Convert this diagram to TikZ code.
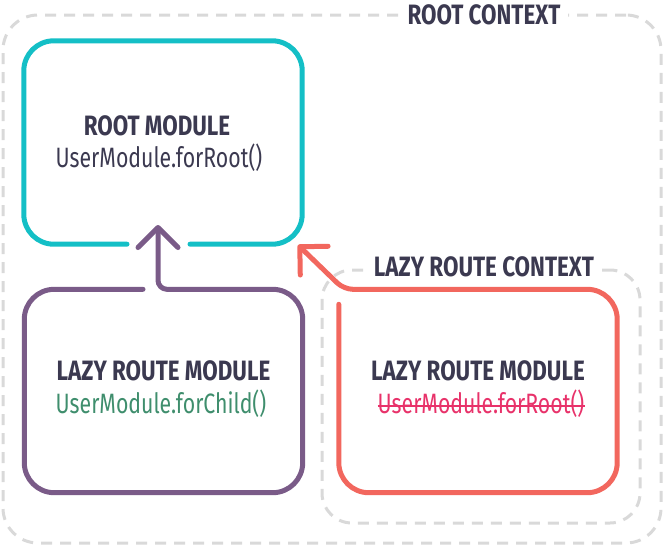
\documentclass[tikz,border=0pt]{standalone}
\usepackage{fontspec}
\setmainfont{Fira Sans}[FakeStretch=0.76, BoldFeatures={FakeStretch=0.8}]
\usepackage{tikz}
\usetikzlibrary{positioning}
\usetikzlibrary{calc, arrows.meta}

\definecolor{rootCyan}{HTML}{14BFC6}
\definecolor{childPurple}{HTML}{7A5B88}
\definecolor{lazyRed}{HTML}{F2675E}
\definecolor{textNavy}{HTML}{3B3950}
\definecolor{callGreen}{HTML}{3F8E6D}
\definecolor{callPink}{HTML}{E8326A}
\definecolor{contextGray}{HTML}{D9D9D9}

\begin{document}
\begin{tikzpicture}[x=1pt, y=-1pt]
	\tikzstyle{box}=[minimum width=278pt, minimum height=203pt, inner sep=0pt]
	\tikzstyle{outline}=[line width=5pt, rounded corners=30pt, line cap=round, line join=round]
	\tikzstyle{context}=[draw=contextGray, line width=3pt, dash pattern=on 11pt off 8pt, inner sep=0pt]
	\tikzstyle{title}=[font=\bfseries\fontsize{28}{32}\selectfont, text=textNavy, anchor=base, inner sep=0pt]
	\tikzstyle{call}=[font=\fontsize{28}{32}\selectfont, anchor=base, inner sep=0pt]
	\tikzstyle{ctxlabel}=[title, anchor=center, fill=white, inner xsep=8pt, inner ysep=4pt]
	\tikzstyle{barb}=[-{Straight Barb[length=20pt, width=40pt, round]}]

	\useasboundingbox (0,0) rectangle (671,546);

	% contexts
	\node[context, rounded corners=35pt, minimum width=658pt, minimum height=528pt] (rootCtx) at (332,279) {};
	\node[context, rounded corners=30pt, minimum width=318pt, minimum height=253pt] (lazyCtx) at (481,396.5) {};
	\node[ctxlabel] (rootCtxLabel) at (484,15) {ROOT CONTEXT};
	\node[ctxlabel] (lazyCtxLabel) at (484,267) {LAZY ROUTE CONTEXT};

	% modules
	\node[box] (root) at (163,142.5) {};
	\node[box] (child) at (163.5,391) {};
	\node[box] (lazy) at (478,391) {};

	\node[title] (rootTitle) at (157,135) {ROOT MODULE};
	\node[call, text=textNavy] (rootCall) at (159,167) {UserModule.forRoot()};
	\node[title] (childTitle) at (163.5,380) {LAZY ROUTE MODULE};
	\node[call, text=callGreen] (childCall) at (161,413) {UserModule.forChild()};
	\node[title] (lazyTitle) at (478,380) {LAZY ROUTE MODULE};
	\node[call, text=callPink] (lazyCall) at (481,413) {UserModule.forRoot()};
	\draw[callPink, line width=1.6pt] ([yshift=7pt]lazyCall.base west) -- ([yshift=7pt]lazyCall.base east);

	\coordinate (childTip) at (158,225);
	\coordinate (lazyTip) at (298,245);

	\draw[outline, rootCyan] ($(childTip |- root.south)+(32,0)$) -| (root.north east) -| (root.south west) -- ($(childTip |- root.south)+(-31,0)$);
	\draw[outline, barb, childPurple] ($(childTip |- child.north)+(-15,0)$) -| (child.south west) -| (child.north east) [rounded corners=9pt] -- (childTip |- child.north) -- (childTip);
	\draw[outline, barb, lazyRed] ($(lazy.north west)+(0,15)$) |- (lazy.south east) -- (lazy.north east) [rounded corners=9pt] -- ($(lazy.north west)+(5,0)$) -- (lazyTip);
\end{tikzpicture}
\end{document}
